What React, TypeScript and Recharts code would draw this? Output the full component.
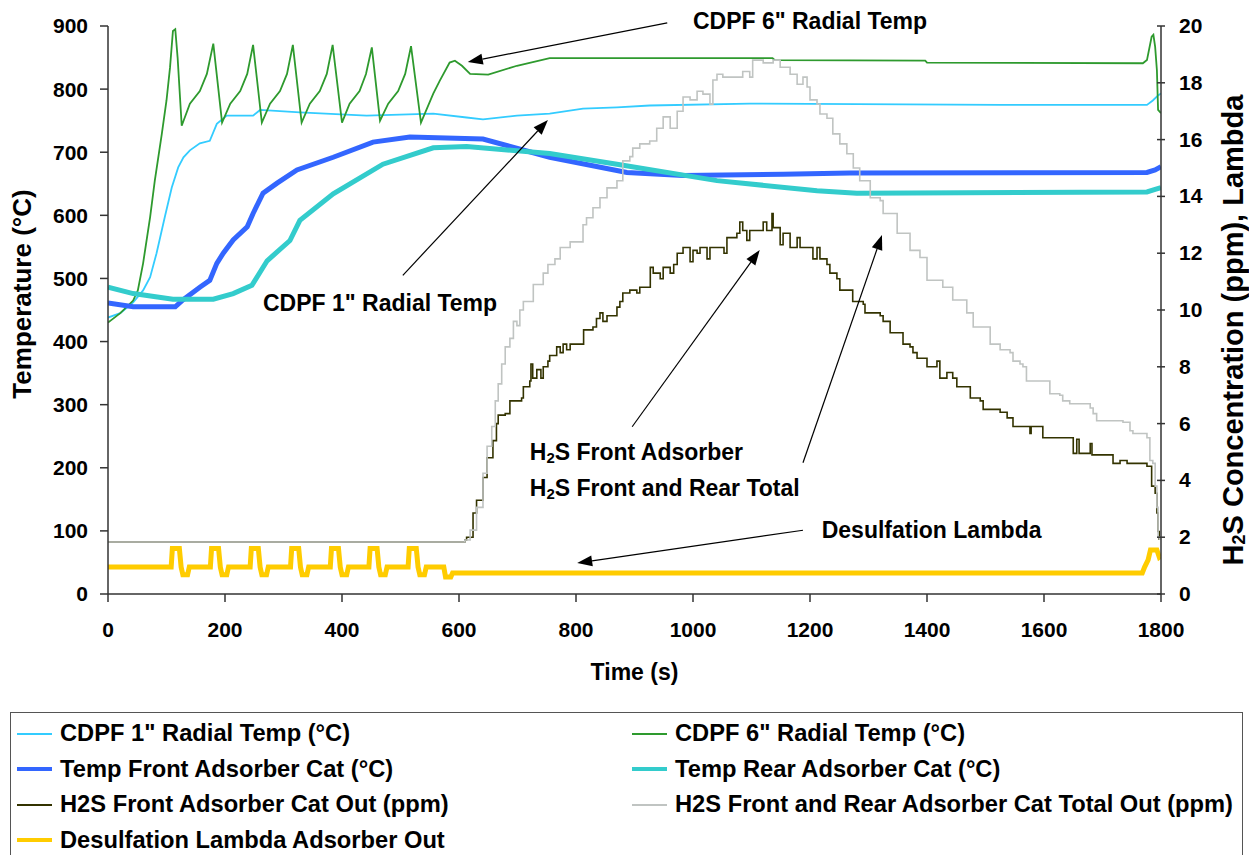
import React from "react";
import { Line, LineChart, ReferenceDot, ReferenceLine, XAxis, YAxis } from "recharts";

const FONT = '"Liberation Sans", Arial, sans-serif';

// axis ticks
const timeTicks = [0, 200, 400, 600, 800, 1000, 1200, 1400, 1600, 1800];
const tempTicks = [0, 100, 200, 300, 400, 500, 600, 700, 800, 900];
const h2sTicks = [0, 2, 4, 6, 8, 10, 12, 14, 16, 18, 20];

// [time (s), value]
const cdpf1Temp = [
  [0, 438], [21, 445], [43, 462], [60, 481], [72, 502], [83, 540], [97, 597], [109, 644],
  [120, 676], [129, 692], [140, 703], [157, 714], [174, 718], [186, 745], [203, 758],
  [248, 758], [260, 767], [328, 763], [442, 758], [556, 761], [613, 755], [641, 752],
  [699, 758], [755, 761], [812, 769], [870, 771], [926, 774], [1097, 777], [1525, 775],
  [1776, 775], [1786, 782], [1795, 790], [1800, 793],
];

const cdpf6Temp = [
  [0, 430], [21, 445], [43, 465], [51, 481], [60, 524], [72, 597], [80, 655], [92, 729],
  [100, 782], [106, 834], [111, 892], [115, 895], [119, 850], [126, 742],
  [140, 777], [157, 797], [169, 824], [180, 872], [195, 747],
  [209, 777], [226, 797], [238, 824], [248, 870], [263, 747],
  [277, 777], [294, 797], [306, 824], [316, 870], [331, 747],
  [345, 777], [362, 797], [374, 824], [384, 870], [400, 747],
  [413, 777], [430, 797], [441, 824], [451, 866], [465, 750],
  [479, 777], [496, 797], [508, 824], [518, 868], [535, 747],
  [556, 793], [567, 813], [584, 842], [593, 845], [605, 837], [619, 824], [650, 823],
  [699, 837], [755, 849], [1136, 849], [1140, 846], [1397, 845], [1400, 842],
  [1769, 841], [1776, 846], [1784, 883], [1787, 886], [1790, 867], [1793, 830],
  [1795, 767], [1800, 762],
];

const frontAdsTemp = [
  [0, 461], [43, 455], [115, 455], [128, 466], [157, 486], [174, 497], [186, 524],
  [197, 540], [214, 561], [238, 582], [248, 603], [265, 635], [289, 651], [323, 672],
  [385, 692], [453, 716], [516, 724], [641, 721], [755, 692], [887, 668], [983, 663],
  [1154, 665], [1268, 667], [1776, 668], [1790, 672], [1800, 677],
];

const rearAdsTemp = [
  [0, 486], [43, 476], [111, 467], [180, 467], [214, 476], [246, 489], [272, 528],
  [311, 560], [328, 592], [385, 634], [470, 681], [556, 707], [613, 709], [755, 698],
  [870, 681], [1041, 655], [1212, 639], [1280, 635], [1776, 637], [1790, 641], [1800, 644],
];

const h2sFront = [
  [0, 1.83], [605, 1.83], [610, 1.9], [613, 2.0], [624, 2.85], [630, 3.3], [641, 4.1],
  [648, 4.8], [658, 5.4], [664, 6.0], [667, 6.3], [679, 6.35], [687, 6.8], [707, 6.9],
  [710, 7.3], [721, 7.5], [723, 8.1], [726, 7.6], [733, 7.9], [740, 7.6], [744, 8.0],
  [752, 8.2], [755, 8.4], [767, 8.7], [773, 8.5], [778, 8.8], [784, 8.6], [790, 8.8],
  [812, 8.8], [813, 9.3], [829, 9.4], [835, 9.7], [841, 9.9], [846, 9.6], [853, 9.8],
  [870, 10.1], [875, 10.3], [880, 10.6], [892, 10.7], [904, 10.6], [909, 10.8],
  [926, 10.8], [927, 11.5], [932, 11.3], [944, 11.1], [949, 11.5], [961, 11.3],
  [967, 11.6], [973, 12.0], [983, 12.2], [995, 11.7], [1000, 12.1], [1007, 12.0],
  [1012, 12.2], [1024, 11.8], [1029, 12.2], [1051, 12.2], [1053, 12.0], [1058, 12.55],
  [1075, 12.7], [1080, 13.1], [1085, 12.8], [1092, 12.45], [1097, 12.8], [1115, 12.8],
  [1120, 13.1], [1126, 12.8], [1135, 13.4], [1137, 12.9], [1149, 12.3], [1154, 12.7],
  [1166, 12.2], [1178, 12.55], [1183, 12.2], [1200, 12.2], [1205, 11.8], [1212, 12.2],
  [1217, 11.8], [1229, 11.6], [1234, 11.3], [1246, 11.1], [1251, 10.7], [1268, 10.7],
  [1273, 10.3], [1291, 10.2], [1294, 9.9], [1320, 9.8], [1325, 9.6], [1337, 9.2],
  [1349, 9.2], [1359, 8.8], [1371, 8.7], [1376, 8.5], [1383, 8.3], [1393, 8.3],
  [1400, 8.0], [1417, 8.2], [1422, 7.6], [1434, 7.8], [1444, 7.6], [1451, 7.3],
  [1462, 7.3], [1474, 6.9], [1491, 6.8], [1496, 6.5], [1525, 6.4], [1537, 6.2],
  [1547, 5.9], [1574, 5.9], [1576, 5.65], [1578, 5.9], [1593, 5.9], [1598, 5.5],
  [1644, 5.5], [1650, 4.95], [1656, 5.45], [1660, 4.95], [1677, 4.95], [1679, 5.3],
  [1682, 4.9], [1713, 4.9], [1718, 4.6], [1730, 4.7], [1742, 4.6], [1776, 4.5],
  [1784, 3.8], [1790, 3.55], [1793, 2.85], [1795, 2.2], [1797, 1.9],
];

const h2sTotal = [
  [0, 1.83], [608, 1.83], [610, 1.9], [619, 2.25], [630, 3.05], [641, 4.25], [648, 5.2],
  [656, 5.9], [662, 6.8], [667, 7.4], [673, 8.1], [679, 8.7], [687, 9.0], [693, 9.6],
  [699, 9.45], [704, 10.0], [710, 10.3], [716, 10.3], [727, 10.9], [744, 11.3],
  [752, 11.6], [764, 11.8], [773, 12.2], [790, 12.4], [812, 13.0], [818, 13.25],
  [829, 13.6], [841, 13.95], [853, 14.3], [870, 14.55], [880, 15.25], [892, 15.4],
  [897, 15.7], [909, 15.85], [926, 15.95], [938, 16.4], [949, 16.8], [961, 16.4],
  [973, 17.0], [983, 17.5], [995, 17.4], [1007, 17.7], [1017, 17.6], [1029, 17.25],
  [1034, 18.1], [1041, 18.3], [1051, 18.2], [1075, 18.2], [1085, 18.4], [1097, 18.2],
  [1102, 18.8], [1120, 18.7], [1137, 18.8], [1149, 18.55], [1166, 18.3], [1178, 17.95],
  [1188, 18.2], [1195, 17.85], [1200, 17.4], [1212, 17.25], [1217, 16.9], [1229, 16.75],
  [1239, 16.2], [1251, 15.85], [1263, 15.5], [1274, 15.0], [1285, 14.55], [1303, 13.95],
  [1320, 13.85], [1325, 13.4], [1349, 12.7], [1371, 12.1], [1388, 11.85], [1400, 11.05],
  [1427, 10.8], [1444, 10.35], [1468, 9.9], [1479, 9.4], [1508, 8.8], [1525, 8.6],
  [1542, 8.5], [1547, 8.2], [1559, 8.1], [1564, 8.0], [1570, 7.5], [1605, 7.5],
  [1610, 7.05], [1627, 7.0], [1632, 6.8], [1644, 6.7], [1679, 6.55], [1684, 6.35],
  [1690, 6.1], [1735, 6.05], [1747, 5.75], [1752, 5.65], [1776, 5.5], [1781, 4.7],
  [1786, 4.6], [1790, 3.8], [1793, 3.05], [1795, 2.0], [1798, 1.9],
];

const lambdaOut = [
  [0, 0.95], [108, 0.95], [110, 1.6], [122, 1.6], [125, 0.95], [128, 0.68], [136, 0.68], [139, 0.95],
  [175, 0.95], [177, 1.6], [189, 1.6], [192, 0.95], [195, 0.68], [203, 0.68], [206, 0.95],
  [243, 0.95], [245, 1.6], [257, 1.6], [260, 0.95], [263, 0.68], [271, 0.68], [274, 0.95],
  [312, 0.95], [314, 1.6], [326, 1.6], [329, 0.95], [332, 0.68], [340, 0.68], [343, 0.95],
  [380, 0.95], [382, 1.6], [394, 1.6], [397, 0.95], [400, 0.68], [408, 0.68], [411, 0.95],
  [446, 0.95], [448, 1.6], [460, 1.6], [463, 0.95], [466, 0.68], [474, 0.68], [477, 0.95],
  [513, 0.95], [515, 1.6], [527, 1.6], [530, 0.95], [533, 0.68], [541, 0.68], [544, 0.95],
  [574, 0.95], [577, 0.6], [586, 0.6], [589, 0.74], [1768, 0.74], [1772, 0.95],
  [1778, 1.2], [1782, 1.55], [1793, 1.55], [1797, 1.3], [1800, 1.35],
];

type Series = {
  name: string;
  values: number[][];
  color: string;
  width: number;
  axis: "temp" | "h2s";
  step?: boolean;
};

const series: Series[] = [
  { name: "CDPF 1\" Radial Temp (°C)", values: cdpf1Temp, color: "#33CCFF", width: 1.8, axis: "temp" },
  { name: "CDPF 6\" Radial Temp (°C)", values: cdpf6Temp, color: "#2E9A2E", width: 1.8, axis: "temp" },
  { name: "Temp Front Adsorber Cat (°C)", values: frontAdsTemp, color: "#3366FF", width: 5, axis: "temp" },
  { name: "Temp Rear Adsorber Cat (°C)", values: rearAdsTemp, color: "#33CCCC", width: 5, axis: "temp" },
  { name: "H2S Front Adsorber Cat Out (ppm)", values: h2sFront, color: "#333300", width: 1.6, axis: "h2s", step: true },
  { name: "H2S Front and Rear Adsorber Cat Total Out (ppm)", values: h2sTotal, color: "#C0C4C2", width: 1.6, axis: "h2s", step: true },
  { name: "Desulfation Lambda Adsorber Out", values: lambdaOut, color: "#FFCC00", width: 5, axis: "h2s" },
];

// annotation arrows: tail -> head, in (time, °C)
const arrows = [
  { from: [956, 905], to: [615, 843] },
  { from: [504, 505], to: [752, 751] },
  { from: [896, 265], to: [1114, 545] },
  { from: [1188, 208], to: [1323, 569] },
  { from: [1188, 101], to: [802, 49] },
];

const H2 = (rest: string) => (
  <>
    H<tspan fontSize={15} dy={5}>2</tspan>
    <tspan dy={-5}>{rest}</tspan>
  </>
);

const notes = [
  { at: [1200, 908], anchor: "middle", label: <>CDPF 6" Radial Temp</> },
  { at: [465, 461], anchor: "middle", label: <>CDPF 1" Radial Temp</> },
  { at: [721, 225], anchor: "start", label: H2("S Front Adsorber") },
  { at: [721, 168], anchor: "start", label: H2("S Front and Rear Total") },
  { at: [1220, 101], anchor: "start", label: <>Desulfation Lambda</> },
];

function ArrowShape(p: any) {
  const { x1, y1, x2, y2 } = p;
  const ang = Math.atan2(y2 - y1, x2 - x1);
  const len = 15;
  const half = 5.5;
  const bx = x2 - len * Math.cos(ang);
  const by = y2 - len * Math.sin(ang);
  const nx = -Math.sin(ang) * half;
  const ny = Math.cos(ang) * half;
  return (
    <g>
      <line x1={x1} y1={y1} x2={bx} y2={by} stroke="#000" strokeWidth={1.2} />
      <polygon points={`${x2},${y2} ${bx + nx},${by + ny} ${bx - nx},${by - ny}`} fill="#000" />
    </g>
  );
}

function RightTick(p: any) {
  const { x, y, payload } = p;
  return (
    <g>
      <line x1={x - 22} y1={y} x2={x - 14} y2={y} stroke="#333" strokeWidth={1.5} />
      <text x={x} y={y} dy={7} textAnchor="start" fontSize={21} fontWeight="bold" fill="#000" fontFamily={FONT}>
        {payload.value}
      </text>
    </g>
  );
}

const tickStyle = { fontSize: 21, fontWeight: "bold", fill: "#000", fontFamily: FONT };
const axisStroke = { stroke: "#333", strokeWidth: 1.5 };

export default function App() {
  return (
    <div style={{ position: "absolute", left: 0, top: 0, width: 1249, height: 855, background: "#fff", overflow: "hidden", fontFamily: FONT }}>
      <LineChart width={1249} height={712} margin={{ top: 26, right: 0, bottom: 0, left: 0 }}>
        <XAxis
          type="number"
          dataKey="t"
          domain={[0, 1800]}
          ticks={timeTicks}
          allowDataOverflow
          height={118}
          tickSize={8}
          tickMargin={20}
          tick={tickStyle}
          axisLine={axisStroke}
          tickLine={axisStroke}
          label={{ value: "Time (s)", position: "insideBottom", offset: 32, style: { fontSize: 23, fontWeight: "bold", fill: "#000", fontFamily: FONT } }}
        />
        <YAxis
          yAxisId="temp"
          domain={[0, 900]}
          ticks={tempTicks}
          allowDataOverflow
          width={108}
          tickSize={8}
          tickMargin={12}
          tick={tickStyle}
          axisLine={axisStroke}
          tickLine={axisStroke}
          label={{
            content: (lp: any) => {
              const vb = lp.viewBox;
              const cx = vb.x + 22;
              const cy = vb.y + vb.height / 2 - 16;
              return (
                <text x={cx} y={cy} transform={`rotate(-90 ${cx} ${cy})`} textAnchor="middle" dominantBaseline="central" fontSize={26} fontWeight="bold" fill="#000" fontFamily={FONT}>
                  Temperature (°C)
                </text>
              );
            },
          }}
        />
        <YAxis
          yAxisId="h2s"
          orientation="right"
          domain={[0, 20]}
          ticks={h2sTicks}
          allowDataOverflow
          width={88}
          tickSize={8}
          tickMargin={10}
          tick={<RightTick />}
          axisLine={axisStroke}
          tickLine={false}
          label={{
            content: (lp: any) => {
              const vb = lp.viewBox;
              const cx = vb.x + 72;
              const cy = vb.y + vb.height / 2 + 20;
              return (
                <text x={cx} y={cy} transform={`rotate(-90 ${cx} ${cy})`} textAnchor="middle" dominantBaseline="central" fontSize={29} fontWeight="bold" fill="#000" fontFamily={FONT}>
                  H<tspan fontSize={18} dy={6}>2</tspan>
                  <tspan dy={-6}>S Concentration (ppm), Lambda</tspan>
                </text>
              );
            },
          }}
        />
        {series.map((s) => (
          <Line
            key={s.name}
            yAxisId={s.axis}
            data={s.values.map(([t, v]) => ({ t, v }))}
            dataKey="v"
            name={s.name}
            type={s.step ? "stepAfter" : "linear"}
            stroke={s.color}
            strokeWidth={s.width}
            dot={false}
            activeDot={false}
            isAnimationActive={false}
          />
        ))}
        {arrows.map((a, i) => (
          <ReferenceLine
            key={`arrow-${i}`}
            yAxisId="temp"
            ifOverflow="visible"
            segment={[
              { x: a.from[0], y: a.from[1] },
              { x: a.to[0], y: a.to[1] },
            ]}
            shape={ArrowShape}
          />
        ))}
        {notes.map((n, i) => (
          <ReferenceDot
            key={`note-${i}`}
            yAxisId="temp"
            x={n.at[0]}
            y={n.at[1]}
            ifOverflow="visible"
            shape={(p: any) => (
              <text x={p.cx} y={p.cy} textAnchor={n.anchor as any} dominantBaseline="central" fontSize={23} fontWeight="bold" fill="#000" fontFamily={FONT}>
                {n.label}
              </text>
            )}
          />
        ))}
      </LineChart>
      <div
        style={{
          position: "absolute",
          left: 10,
          top: 712,
          width: 1233,
          height: 170,
          border: "1.5px solid #555",
          boxSizing: "border-box",
          paddingTop: 3,
          display: "grid",
          gridTemplateColumns: "615px 615px",
          gridAutoRows: "35.5px",
        }}
      >
        {series.map((s) => (
          <div key={s.name} style={{ display: "flex", alignItems: "center", fontSize: 23.7, fontWeight: "bold", color: "#000", whiteSpace: "nowrap" }}>
            <span style={{ display: "inline-block", marginLeft: 6, width: 35, height: Math.max(2, s.width - 1), background: s.color, marginRight: 8 }} />
            {s.name}
          </div>
        ))}
      </div>
    </div>
  );
}
